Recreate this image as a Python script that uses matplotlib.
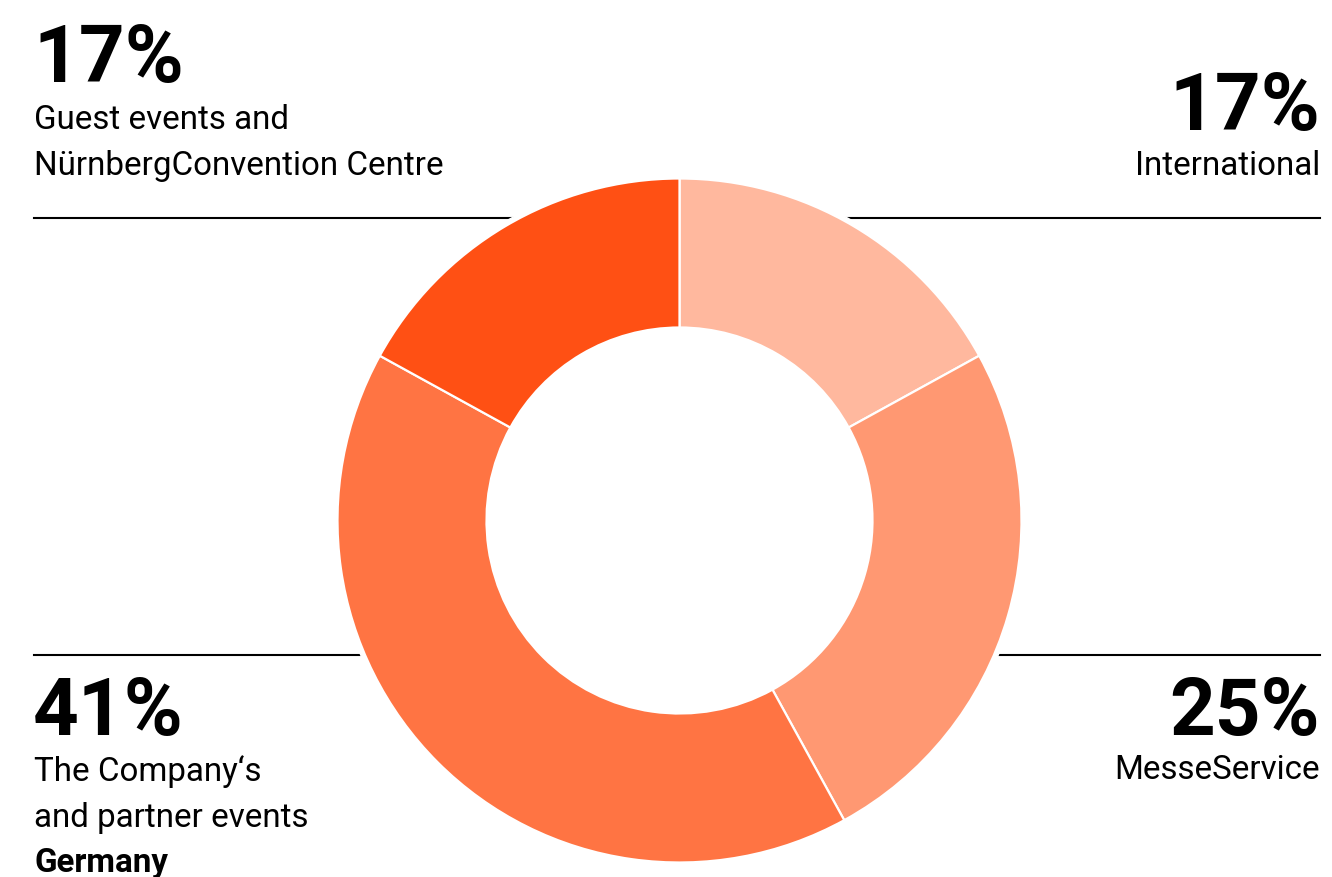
import matplotlib.pyplot as plt
from matplotlib.patches import Circle

plt.rcParams['font.family'] = ['Roboto', 'DejaVu Sans']

# segments, clockwise from 12 o'clock
names = ["International", "MesseService",
         "The Company\u2018s\nand partner events", "Guest events and\nNürnbergConvention Centre"]
shares = [17, 25, 41, 17]
colors = ["#FFB89E", "#FF9872", "#FF7443", "#FF5014"]

W, H = 1332, 878
fig = plt.figure(figsize=(W / 100, H / 100), dpi=100)
ax = fig.add_axes([0, 0, 1, 1])

# donut geometry (pixels, y measured from bottom)
cx, cy = 679.5, H - 521.5
R = 342
ring = 149

ax.pie(shares, colors=colors, startangle=90, counterclock=False,
       center=(cx, cy), radius=R,
       wedgeprops=dict(width=ring, edgecolor="white", linewidth=1.6, zorder=3))

# white halo so the rules stop short of the ring
ax.add_patch(Circle((cx, cy), R + 4, color="white", zorder=2))

# horizontal rules
rule_top = H - 219
rule_bot = H - 656
ax.plot([34, 700], [rule_top, rule_top], color="black", lw=1.5, zorder=1)
ax.plot([660, 1320], [rule_top, rule_top], color="black", lw=1.5, zorder=1)
ax.plot([34, 700], [rule_bot, rule_bot], color="black", lw=1.5, zorder=1)
ax.plot([660, 1320], [rule_bot, rule_bot], color="black", lw=1.5, zorder=1)

big = 57.5
small = 23.9

def pct(i):
    return f"{shares[i]}%"

# top left - Guest events
ax.text(33, H - 82, pct(3), fontsize=big, fontweight="bold", va="baseline", ha="left")
ax.text(34, H - 129, names[3].split("\n")[0], fontsize=small, va="baseline", ha="left")
ax.text(34, H - 175, names[3].split("\n")[1], fontsize=small, va="baseline", ha="left")

# top right - International
ax.text(1320, H - 130, pct(0), fontsize=big, fontweight="bold", va="baseline", ha="right")
ax.text(1320, H - 175, names[0], fontsize=small, va="baseline", ha="right")

# bottom left - Company's events
ax.text(33, H - 735, pct(2), fontsize=big, fontweight="bold", va="baseline", ha="left")
ax.text(34, H - 781, names[2].split("\n")[0], fontsize=small, va="baseline", ha="left")
ax.text(34, H - 827, names[2].split("\n")[1], fontsize=small, va="baseline", ha="left")
ax.text(34, H - 872, "Germany", fontsize=small, fontweight="bold", va="baseline", ha="left")

# bottom right - MesseService
ax.text(1320, H - 735, pct(1), fontsize=big, fontweight="bold", va="baseline", ha="right")
ax.text(1320, H - 779, names[1], fontsize=small, va="baseline", ha="right")

ax.set_xlim(0, W)
ax.set_ylim(0, H)
ax.set_aspect("equal")
ax.set_axis_off()

fig.savefig("out.png", dpi=100, facecolor="white")
